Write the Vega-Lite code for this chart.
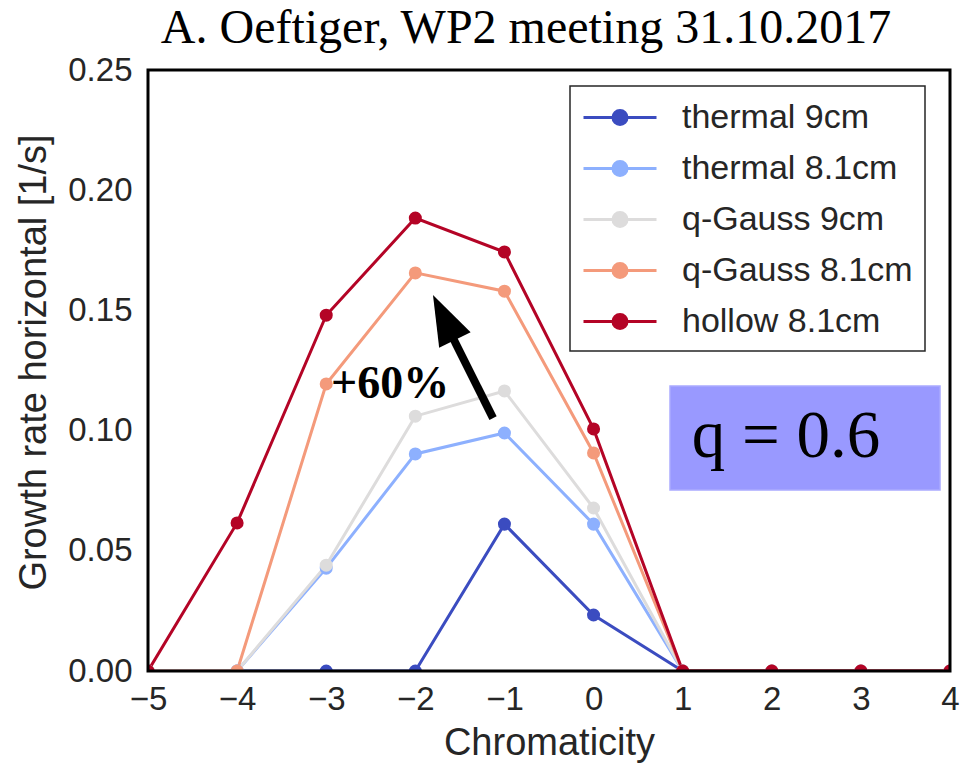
{
  "$schema": "https://vega.github.io/schema/vega-lite/v6.json",
  "autosize": {"type": "none"},
  "padding": {"left": 148, "top": 70, "right": 12, "bottom": 94},
  "width": 802,
  "height": 601,
  "background": "white",
  "title": {
    "text": "A. Oeftiger, WP2 meeting 31.10.2017",
    "font": "Liberation Serif",
    "fontSize": 48,
    "fontWeight": "normal",
    "color": "black",
    "anchor": "middle",
    "offset": 1,
    "dx": -23
  },
  "config": {
    "view": {"stroke": null},
    "axis": {
      "labelFont": "Liberation Sans",
      "labelFontSize": 33,
      "labelColor": "#262626",
      "labelFlush": false,
      "labelOverlap": false,
      "labelBound": false,
      "titleFont": "Liberation Sans",
      "titleFontSize": 38,
      "titleFontWeight": "normal",
      "titleColor": "#262626",
      "gridColor": "#d0d0d0",
      "gridWidth": 1.8,
      "ticks": false,
      "domain": false
    }
  },
  "datasets": {
    "growth": [
      {"series": "thermal 9cm", "chrom": -5, "rate": 0},
      {"series": "thermal 9cm", "chrom": -4, "rate": 0},
      {"series": "thermal 9cm", "chrom": -3, "rate": 0},
      {"series": "thermal 9cm", "chrom": -2, "rate": 0},
      {"series": "thermal 9cm", "chrom": -1, "rate": 0.0611},
      {"series": "thermal 9cm", "chrom": 0, "rate": 0.0233},
      {"series": "thermal 9cm", "chrom": 1, "rate": 0},
      {"series": "thermal 9cm", "chrom": 2, "rate": 0},
      {"series": "thermal 9cm", "chrom": 3, "rate": 0},
      {"series": "thermal 9cm", "chrom": 4, "rate": 0},
      {"series": "thermal 8.1cm", "chrom": -5, "rate": 0},
      {"series": "thermal 8.1cm", "chrom": -4, "rate": 0},
      {"series": "thermal 8.1cm", "chrom": -3, "rate": 0.0428},
      {"series": "thermal 8.1cm", "chrom": -2, "rate": 0.0903},
      {"series": "thermal 8.1cm", "chrom": -1, "rate": 0.099},
      {"series": "thermal 8.1cm", "chrom": 0, "rate": 0.0611},
      {"series": "thermal 8.1cm", "chrom": 1, "rate": 0},
      {"series": "thermal 8.1cm", "chrom": 2, "rate": 0},
      {"series": "thermal 8.1cm", "chrom": 3, "rate": 0},
      {"series": "thermal 8.1cm", "chrom": 4, "rate": 0},
      {"series": "q-Gauss 9cm", "chrom": -5, "rate": 0},
      {"series": "q-Gauss 9cm", "chrom": -4, "rate": 0},
      {"series": "q-Gauss 9cm", "chrom": -3, "rate": 0.044},
      {"series": "q-Gauss 9cm", "chrom": -2, "rate": 0.106},
      {"series": "q-Gauss 9cm", "chrom": -1, "rate": 0.1165},
      {"series": "q-Gauss 9cm", "chrom": 0, "rate": 0.0678},
      {"series": "q-Gauss 9cm", "chrom": 1, "rate": 0},
      {"series": "q-Gauss 9cm", "chrom": 2, "rate": 0},
      {"series": "q-Gauss 9cm", "chrom": 3, "rate": 0},
      {"series": "q-Gauss 9cm", "chrom": 4, "rate": 0},
      {"series": "q-Gauss 8.1cm", "chrom": -5, "rate": 0},
      {"series": "q-Gauss 8.1cm", "chrom": -4, "rate": 0},
      {"series": "q-Gauss 8.1cm", "chrom": -3, "rate": 0.1194},
      {"series": "q-Gauss 8.1cm", "chrom": -2, "rate": 0.1656},
      {"series": "q-Gauss 8.1cm", "chrom": -1, "rate": 0.158},
      {"series": "q-Gauss 8.1cm", "chrom": 0, "rate": 0.0907},
      {"series": "q-Gauss 8.1cm", "chrom": 1, "rate": 0},
      {"series": "q-Gauss 8.1cm", "chrom": 2, "rate": 0},
      {"series": "q-Gauss 8.1cm", "chrom": 3, "rate": 0},
      {"series": "q-Gauss 8.1cm", "chrom": 4, "rate": 0},
      {"series": "hollow 8.1cm", "chrom": -5, "rate": 0},
      {"series": "hollow 8.1cm", "chrom": -4, "rate": 0.0616},
      {"series": "hollow 8.1cm", "chrom": -3, "rate": 0.148},
      {"series": "hollow 8.1cm", "chrom": -2, "rate": 0.1884},
      {"series": "hollow 8.1cm", "chrom": -1, "rate": 0.1743},
      {"series": "hollow 8.1cm", "chrom": 0, "rate": 0.1007},
      {"series": "hollow 8.1cm", "chrom": 1, "rate": 0},
      {"series": "hollow 8.1cm", "chrom": 2, "rate": 0},
      {"series": "hollow 8.1cm", "chrom": 3, "rate": 0},
      {"series": "hollow 8.1cm", "chrom": 4, "rate": 0}
    ],
    "notes": [
      {"label": "q = 0.6"}
    ],
    "pct": [
      {"label": "+60%"}
    ]
  },
  "layer": [
    {
      "data": {"name": "notes"},
      "mark": {"type": "rect", "fill": "#9999ff", "stroke": "#aaaaff", "strokeWidth": 1.5},
      "encoding": {
        "x": {"datum": 0.858, "type": "quantitative", "scale": {"domain": [-5, 4], "nice": false, "zero": false},
          "axis": {"values": [-5, -4, -3, -2, -1, 0, 1, 2, 3, 4], "format": "d", "title": "Chromaticity", "labelPadding": 12, "titlePadding": 8}},
        "x2": {"datum": 3.888},
        "y": {"datum": 0.1186, "type": "quantitative", "scale": {"domain": [0, 0.25], "nice": false},
          "axis": {"values": [0, 0.05, 0.1, 0.15, 0.2, 0.25], "format": ".2f", "title": "Growth rate horizontal [1/s]", "labelPadding": 16, "titlePadding": 14, "titleY": 292}},
        "y2": {"datum": 0.0753}
      }
    },
    {
      "data": {"name": "growth"},
      "mark": {"type": "line", "strokeWidth": 3, "clip": true},
      "encoding": {
        "x": {"field": "chrom", "type": "quantitative"},
        "y": {"field": "rate", "type": "quantitative"},
        "color": {
          "field": "series",
          "type": "nominal",
          "sort": ["thermal 9cm", "thermal 8.1cm", "q-Gauss 9cm", "q-Gauss 8.1cm", "hollow 8.1cm"],
          "scale": {
            "domain": ["thermal 9cm", "thermal 8.1cm", "q-Gauss 9cm", "q-Gauss 8.1cm", "hollow 8.1cm"],
            "range": ["#3b4cc0", "#8db0fe", "#dddcdc", "#f49a7b", "#b40426"]
          },
          "legend": {
            "title": null,
            "orient": "none",
            "legendX": 422,
            "legendY": 16,
            "symbolType": "M-1,0H3.056M0.639,0A0.389,0.389,0,1,1,1.417,0A0.389,0.389,0,1,1,0.639,0Z",
            "symbolSize": 1296,
            "symbolStrokeWidth": 3,
            "symbolOpacity": 1,
            "labelFont": "Liberation Sans",
            "labelFontSize": 34,
            "labelColor": "#262626",
            "labelOffset": 61,
            "labelLimit": 400,
            "padding": 12,
            "rowPadding": 14,
            "strokeColor": "#262626",
            "fillColor": "white",
            "cornerRadius": 0,
            "encode": {
              "legend": {"update": {"strokeWidth": {"value": 1.5}}},
              "symbols": {
                "update": {
                  "fill": {"scale": "color", "field": "value"},
                  "stroke": {"scale": "color", "field": "value"}
                }
              }
            }
          }
        },
        "detail": {"field": "series"}
      }
    },
    {
      "data": {"name": "growth"},
      "mark": {"type": "point", "filled": true, "size": 170, "opacity": 1, "clip": true},
      "encoding": {
        "x": {"field": "chrom", "type": "quantitative"},
        "y": {"field": "rate", "type": "quantitative"},
        "color": {"field": "series", "type": "nominal", "legend": null}
      }
    },
    {
      "data": {"name": "notes"},
      "mark": {"type": "text", "font": "Liberation Serif", "fontSize": 67, "color": "black", "align": "center", "baseline": "alphabetic"},
      "encoding": {
        "x": {"datum": 2.16, "type": "quantitative"},
        "y": {"datum": 0.089, "type": "quantitative"},
        "text": {"field": "label"}
      }
    },
    {
      "data": {"name": "pct"},
      "mark": {"type": "text", "font": "Liberation Serif", "fontSize": 46, "fontWeight": "bold", "color": "black", "align": "center", "baseline": "alphabetic"},
      "encoding": {
        "x": {"datum": -2.284, "type": "quantitative"},
        "y": {"datum": 0.1136, "type": "quantitative"},
        "text": {"field": "label"}
      }
    },
    {
      "data": {"name": "pct"},
      "mark": {"type": "rule", "color": "black", "strokeWidth": 8, "strokeCap": "butt"},
      "encoding": {
        "x": {"datum": -1.128, "type": "quantitative"},
        "y": {"datum": 0.1052, "type": "quantitative"},
        "x2": {"datum": -1.611},
        "y2": {"datum": 0.141}
      }
    },
    {
      "data": {"name": "pct"},
      "mark": {"type": "point", "shape": "M0,0L0.35,1L-0.35,1Z", "size": 10000, "filled": true, "color": "black", "opacity": 1, "angle": 334},
      "encoding": {
        "x": {"datum": -1.802, "type": "quantitative"},
        "y": {"datum": 0.1564, "type": "quantitative"}
      }
    },
    {
      "data": {"name": "pct"},
      "mark": {"type": "rect", "fill": null, "stroke": "black", "strokeWidth": 3},
      "encoding": {
        "x": {"datum": -5, "type": "quantitative"},
        "x2": {"datum": 4},
        "y": {"datum": 0, "type": "quantitative"},
        "y2": {"datum": 0.25}
      }
    }
  ]
}
